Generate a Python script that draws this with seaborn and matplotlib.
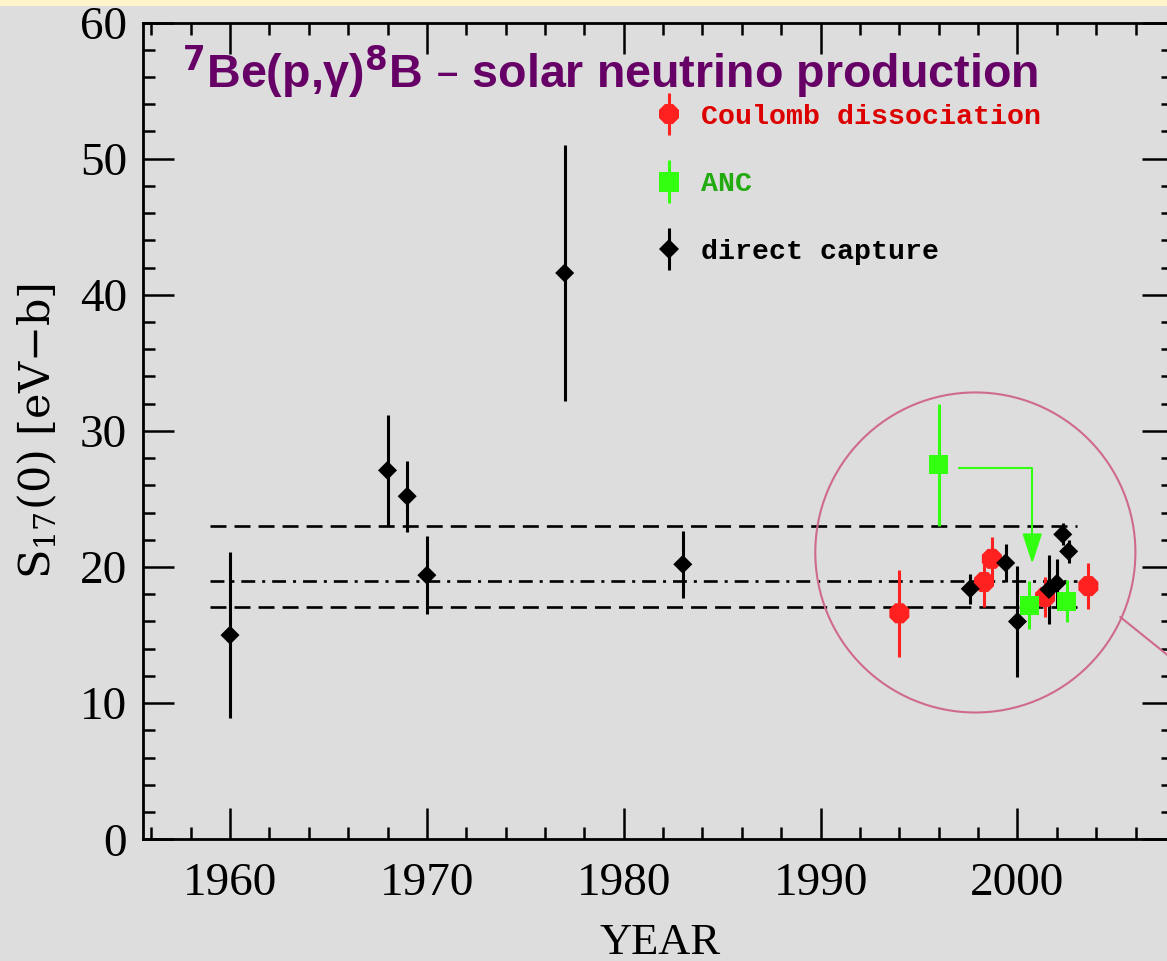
import numpy as np
import pandas as pd
import matplotlib
matplotlib.use("Agg")
import matplotlib.pyplot as plt
import seaborn as sns
from matplotlib.patches import Ellipse, Rectangle
from matplotlib.lines import Line2D
from matplotlib.collections import LineCollection
from matplotlib.container import ErrorbarContainer
from matplotlib.legend_handler import HandlerErrorbar
from matplotlib.ticker import MultipleLocator

# ---- S17(0) determinations -------------------------------------------------
# Coulomb dissociation
cd_year = [1994.0, 1998.3, 1998.7, 2001.4, 2003.6]
cd_s17 = [16.6, 18.9, 20.6, 17.8, 18.6]
cd_err = [3.2, 1.8, 1.6, 1.5, 1.7]

# asymptotic normalization coefficients
anc_year = [1996.0, 2000.6, 2002.5]
anc_s17 = [27.5, 17.2, 17.5]
anc_err = [4.5, 1.75, 1.55]

# direct capture
dc_year = [1960.0, 1968.0, 1969.0, 1970.0, 1977.0, 1983.0,
           1997.6, 1999.4, 2000.0, 2001.6, 2002.0, 2002.3, 2002.6]
dc_s17 = [15.0, 27.1, 25.2, 19.4, 41.6, 20.2,
          18.4, 20.3, 16.0, 18.35, 18.8, 22.4, 21.15]
dc_err = [6.1, 4.05, 2.6, 2.85, 9.4, 2.45,
          1.1, 1.4, 4.1, 2.5, 1.8, 0.8, 0.85]

methods = ["Coulomb dissociation", "ANC", "direct capture"]

# recommended value band (upper, central, lower)
band_levels = [23.0, 19.0, 17.1]
band_span = [1959.0, 2003.0]

# highlight of the recent measurements and the ANC revision arrow
focus_center = (1997.86, 21.07)
focus_size = (16.26, 23.51)
callout_x = [2005.22, 2009.3]
callout_y = [16.33, 11.58]
anc_shift_from = (1997.04, 27.26)
anc_shift_to = (2000.75, 20.24)

# ---- style -----------------------------------------------------------------
BG = "#dddddd"
RED = "#ff2020"
GREEN = "#33ff11"
BLACK = "#000000"
PURPLE = "#660066"
RING = "#cf6a8e"

sns.set_theme(style="ticks")
plt.rcParams["font.family"] = ["Liberation Serif", "DejaVu Serif"]
plt.rcParams["lines.scale_dashes"] = False
plt.rcParams["mathtext.fontset"] = "dejavuserif"

W, H = 1167, 961
fig = plt.figure(figsize=(W / 100, H / 100), dpi=100, facecolor=BG)
fig.patches.append(Rectangle((0, 1 - 6 / H), 1, 6 / H, transform=fig.transFigure,
                             facecolor="#fff3cc", edgecolor="none", zorder=0))

ax = fig.add_axes([143 / W, 1 - 839.3 / H, 1030 / W, 816.8 / H])
ax.set_facecolor(BG)

# ---- data frame for seaborn ------------------------------------------------
df = pd.concat([
    pd.DataFrame({"year": cd_year, "S17": cd_s17, "err": cd_err, "method": methods[0]}),
    pd.DataFrame({"year": anc_year, "S17": anc_s17, "err": anc_err, "method": methods[1]}),
    pd.DataFrame({"year": dc_year, "S17": dc_s17, "err": dc_err, "method": methods[2]}),
], ignore_index=True)

colors = {methods[0]: RED, methods[1]: GREEN, methods[2]: BLACK}
markers = {methods[0]: "8", methods[1]: "s", methods[2]: "D"}
msizes = {methods[0]: 15.6, methods[1]: 13.7, methods[2]: 9.7}

# reference band
ax.hlines([band_levels[0], band_levels[2]], band_span[0], band_span[1],
          colors=BLACK, linewidth=1.9, linestyles=[(0, (11.5, 5.8))], zorder=1)
ax.hlines([band_levels[1]], band_span[0], band_span[1],
          colors=BLACK, linewidth=1.9, linestyles=[(0, (10, 5, 2.2, 5))], zorder=1)

# error bars
for m in methods:
    sub = df[df["method"] == m]
    ax.errorbar(sub["year"], sub["S17"], yerr=sub["err"], fmt="none",
                ecolor=colors[m], elinewidth=2.2, capsize=0, zorder=2)

# markers
sns.scatterplot(data=df, x="year", y="S17", hue="method", style="method",
                size="method", palette=colors, markers=markers,
                sizes={k: v ** 2 for k, v in msizes.items()},
                linewidth=0, legend=False, ax=ax, zorder=3)

# focus ring with callout line
ax.add_patch(Ellipse(focus_center, focus_size[0], focus_size[1], fill=False,
                     edgecolor=RING, linewidth=1.5, zorder=1.5))
ax.plot(callout_x, callout_y, color=RING, linewidth=1.5, clip_on=False, zorder=1.5)

# ANC revision arrow
ax.annotate("", xy=anc_shift_to, xytext=anc_shift_from,
            arrowprops=dict(arrowstyle="-|>,head_length=1.87,head_width=0.61",
                            connectionstyle="angle,angleA=0,angleB=90,rad=0",
                            color=GREEN, lw=1.5, shrinkA=0, shrinkB=0,
                            mutation_scale=10), zorder=2.5)

# ---- axes ------------------------------------------------------------------
ax.set_xlim(1955.58, 2007.9)
ax.set_ylim(0, 60)
ax.xaxis.set_major_locator(MultipleLocator(10))
ax.xaxis.set_minor_locator(MultipleLocator(2))
ax.yaxis.set_major_locator(MultipleLocator(10))
ax.yaxis.set_minor_locator(MultipleLocator(2))
ax.tick_params(which="both", direction="in", top=True, right=True,
               width=1.8, color=BLACK, labelcolor=BLACK)
ax.tick_params(which="major", length=22)
ax.tick_params(which="minor", length=8.6)
ax.tick_params(axis="x", which="major", pad=16.5, labelsize=34)
ax.tick_params(axis="y", which="major", pad=11.5, labelsize=34)
for sp in ax.spines.values():
    sp.set_linewidth(2.0)
    sp.set_color(BLACK)

ax.set_xlabel("YEAR", fontsize=32, color=BLACK)
ax.xaxis.set_label_coords(0.502, -0.1405)
ax.xaxis.label.set_va("baseline")

ax.set_ylabel(r"S$_{17}$(0) [eV$-$b]", fontsize=31, color=BLACK,
              family=["DejaVu Serif"])
ax.yaxis.set_label_coords(-0.102, 0.5)
ax.yaxis.label.set_va("center")

# ---- legend ----------------------------------------------------------------
handles = []
for m in methods:
    line = Line2D([], [], linestyle="none", marker=markers[m], color=colors[m],
                  markersize=msizes[m], markeredgewidth=0)
    bars = LineCollection([], colors=colors[m], linewidths=2.2)
    handles.append(ErrorbarContainer((line, (), (bars,)), has_xerr=False,
                                     has_yerr=True, label=m))
leg = ax.legend(handles=handles, loc="upper left",
                bbox_to_anchor=(655 / W, 1 - 104 / H), bbox_transform=fig.transFigure,
                frameon=False, numpoints=1, handlelength=1.0, handletextpad=0.62,
                labelspacing=1.47, borderpad=0, borderaxespad=0,
                prop={"family": ["Liberation Mono", "DejaVu Sans Mono"],
                      "weight": "bold", "size": 20.3},
                handler_map={ErrorbarContainer: HandlerErrorbar(xerr_size=0.5, yerr_size=0.75)})
for t, c in zip(leg.get_texts(), ["#dd0000", "#22aa11", BLACK]):
    t.set_color(c)

# ---- title -----------------------------------------------------------------
title = r"$\mathbf{^7}$Be(p,γ)$\mathbf{^8}$B" + " \u2013 solar neutrino production"
fig.text(182 / W, 1 - 88 / H, title,
         fontsize=33.6, fontweight="bold", color=PURPLE, math_fontfamily="dejavusans",
         family=["Liberation Sans", "DejaVu Sans"], ha="left", va="baseline")

fig.savefig("out.png", dpi=100, facecolor=BG)
